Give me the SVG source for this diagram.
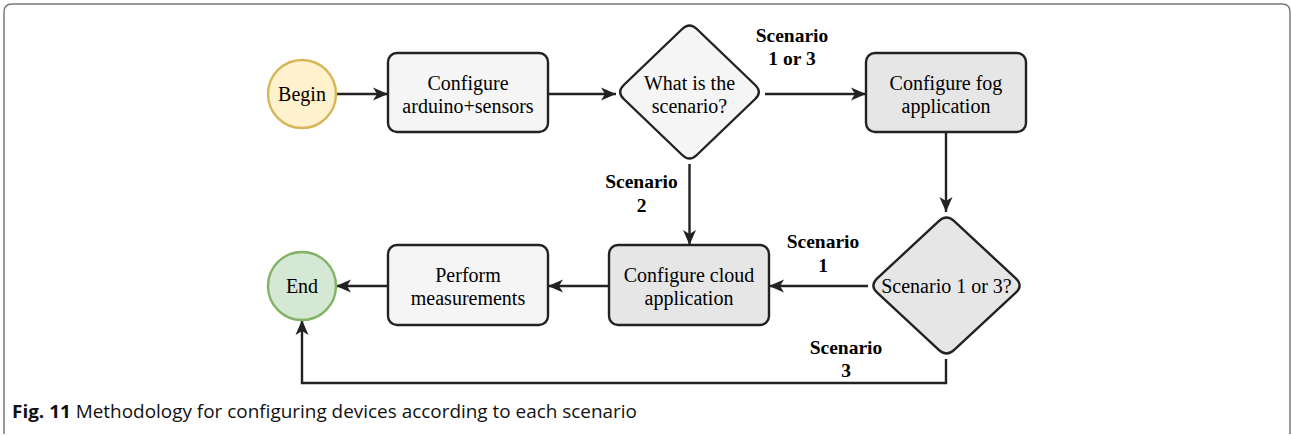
<svg xmlns="http://www.w3.org/2000/svg" width="1291" height="436" viewBox="0 0 1291 436">
<defs>
<style>
.box{stroke:#222;stroke-width:2.4}
.lt{fill:#f5f5f5}
.dk{fill:#e6e6e6}
.c{fill:none;stroke:#222;stroke-width:2.4}
</style>
<marker id="ah" markerUnits="userSpaceOnUse" markerWidth="16" markerHeight="16" viewBox="0 0 16 16" refX="15" refY="8" orient="auto">
<path d="M0,1.5 L15,8 L0,14.5 L4,8 z" fill="#222"/>
</marker>
</defs>
<rect width="1291" height="436" fill="#fff"/>
<path d="M4,434 V12 Q4,4 12,4 H1282 Q1290,4 1290,12 V434" fill="none" stroke="#777" stroke-width="1.5"/>

<g id="connectors">
<path class="c" d="M336,94 H388" marker-end="url(#ah)"/>
<path class="c" d="M548,94 H616" marker-end="url(#ah)"/>
<path class="c" d="M765,94 H866" marker-end="url(#ah)"/>
<path class="c" d="M946,132 V212" marker-end="url(#ah)"/>
<path class="c" d="M689.5,164 V245" marker-end="url(#ah)"/>
<path class="c" d="M868,286 H769" marker-end="url(#ah)"/>
<path class="c" d="M609,286 H548" marker-end="url(#ah)"/>
<path class="c" d="M388,286 H336" marker-end="url(#ah)"/>
<path class="c" d="M946,359 V383 H302 V320" marker-end="url(#ah)"/>
<g style="font-family:'Liberation Serif',serif;font-size:19.5px;font-weight:bold;fill:#000;text-anchor:middle">
<text x="792" y="42">Scenario</text>
<text x="792" y="65">1 or 3</text>
<text x="641.5" y="188">Scenario</text>
<text x="641.5" y="212">2</text>
<text x="823" y="248">Scenario</text>
<text x="823" y="272">1</text>
<text x="846" y="354">Scenario</text>
<text x="846" y="377">3</text>
</g>
</g>

<g id="begin">
<circle cx="302" cy="94" r="34" fill="#fff2cc" stroke="#d6b656" stroke-width="2.4"/>
<text style="font-family:'Liberation Serif',serif;font-size:20px;fill:#000;text-anchor:middle" x="302" y="101">Begin</text>
</g>
<g id="arduino">
<rect class="box lt" x="388" y="53" width="160" height="79" rx="9"/>
<text style="font-family:'Liberation Serif',serif;font-size:20px;fill:#000;text-anchor:middle" x="468" y="89.5">Configure</text>
<text style="font-family:'Liberation Serif',serif;font-size:20px;fill:#000;text-anchor:middle" x="468" y="113">arduino+sensors</text>
</g>
<g id="scenario">
<path class="box lt" d="M696.8,29 L755.2,85 Q762.5,92 755.2,99 L696.8,155 Q689.5,162 682.2,155 L623.8,99 Q616.5,92 623.8,85 L682.2,29 Q689.5,22 696.8,29 Z"/>
<text style="font-family:'Liberation Serif',serif;font-size:20px;fill:#000;text-anchor:middle" x="689.5" y="89.5">What is the</text>
<text style="font-family:'Liberation Serif',serif;font-size:20px;fill:#000;text-anchor:middle" x="689.5" y="112.5">scenario?</text>
</g>
<g id="fog">
<rect class="box dk" x="866" y="53" width="160" height="79" rx="9"/>
<text style="font-family:'Liberation Serif',serif;font-size:20px;fill:#000;text-anchor:middle" x="946" y="89.5">Configure fog</text>
<text style="font-family:'Liberation Serif',serif;font-size:20px;fill:#000;text-anchor:middle" x="946" y="112.5">application</text>
</g>
<g id="scenario13">
<path class="box dk" d="M954.2,221.15 L1015.8,278.35 Q1023.5,285.5 1015.8,292.65 L954.2,349.85 Q946.5,357 938.8,349.85 L877.2,292.65 Q869.5,285.5 877.2,278.35 L938.8,221.15 Q946.5,214 954.2,221.15 Z"/>
<text style="font-family:'Liberation Serif',serif;font-size:20px;fill:#000;text-anchor:middle" x="946.5" y="293">Scenario 1 or 3?</text>
</g>
<g id="cloud">
<rect class="box dk" x="609" y="245" width="160" height="80" rx="9"/>
<text style="font-family:'Liberation Serif',serif;font-size:20px;fill:#000;text-anchor:middle" x="689" y="282">Configure cloud</text>
<text style="font-family:'Liberation Serif',serif;font-size:20px;fill:#000;text-anchor:middle" x="689" y="305">application</text>
</g>
<g id="measure">
<rect class="box lt" x="388" y="245" width="160" height="80" rx="9"/>
<text style="font-family:'Liberation Serif',serif;font-size:20px;fill:#000;text-anchor:middle" x="468" y="282">Perform</text>
<text style="font-family:'Liberation Serif',serif;font-size:20px;fill:#000;text-anchor:middle" x="468" y="305">measurements</text>
</g>
<g id="end">
<circle cx="302" cy="286" r="34" fill="#d5e8d4" stroke="#82b366" stroke-width="2.4"/>
<text style="font-family:'Liberation Serif',serif;font-size:20px;fill:#000;text-anchor:middle" x="302" y="293">End</text>
</g>

<text style="font-family:'Open Sans','Noto Sans',sans-serif;font-size:18px;fill:#111" x="12" y="418" textLength="625" lengthAdjust="spacingAndGlyphs"><tspan font-weight="bold">Fig. 11</tspan> Methodology for configuring devices according to each scenario</text>
</svg>
